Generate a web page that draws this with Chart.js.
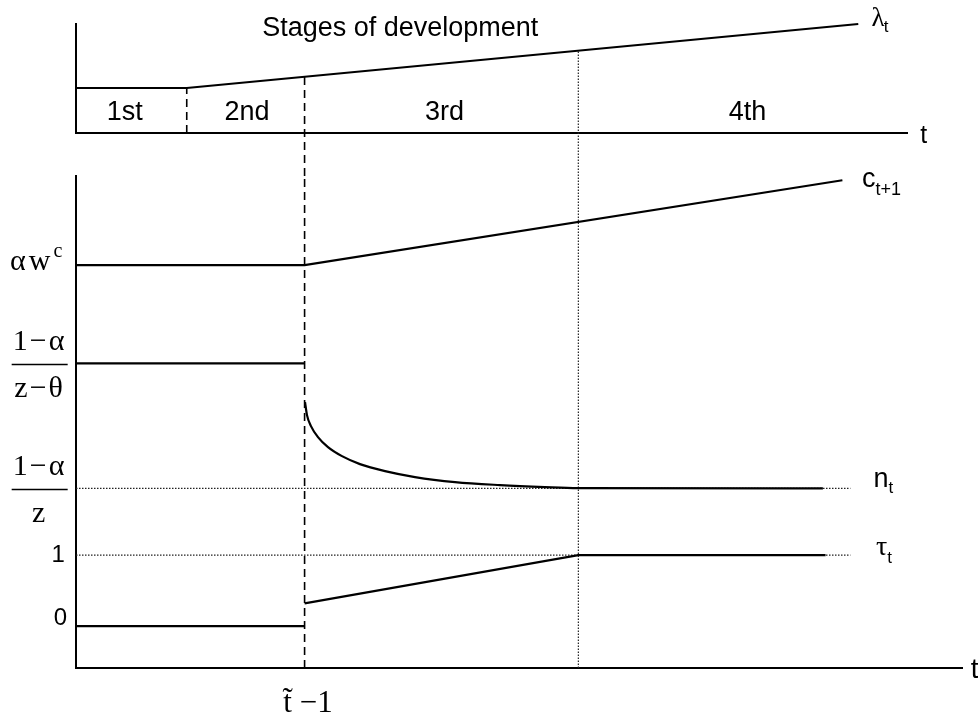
<!DOCTYPE html>
<html>
<head>
<meta charset="utf-8">
<script src="https://cdn.jsdelivr.net/npm/chart.js@4.4.1/dist/chart.umd.min.js"></script>
<style>
  body { margin: 0; background: #fff; }
  #wrap { position: relative; width: 978px; height: 717px; }
  #wrap canvas { position: absolute; left: 0; top: 0; }
</style>
</head>
<body>
<div id="wrap">
  <canvas id="topChart" width="978" height="717"></canvas>
  <canvas id="bottomChart" width="978" height="717"></canvas>
</div>
<script>
// time axis (shared by both panels)
const stageEdges = [12.5, 25.8, 56.7];      // 1st|2nd, 2nd|3rd (t~ - 1), 3rd|4th
const stageNames = ['1st', '2nd', '3rd', '4th'];
const stageLabelX = [5.5, 19.3, 41.6, 75.8];

// top panel: lambda_t
const lambdaX = [0, 12.5, 88.3];
const lambdaY = [4.54, 4.54, 11.0];

// bottom panel
const cX = [0, 25.8, 86.5];
const cY = [5.085, 5.085, 6.28];
const thetaX = [0, 25.8];
const thetaY = [3.70, 3.70];
const nX = [25.85, 26.07, 26.52, 27.31, 28.44, 30.02, 32.05, 34.88, 38.26, 42.78, 47.86, 52.93, 56.66, 84.3];
const nY = [3.155, 2.972, 2.817, 2.662, 2.521, 2.394, 2.282, 2.183, 2.099, 2.028, 1.986, 1.958, 1.944, 1.94];
const tauBeforeX = [0, 25.8];
const tauBeforeY = [0, 0];
const tauAfterX = [25.8, 56.7, 84.6];
const tauAfterY = [0.32, 1, 1];
const nStar = 1.94;
const levelEndX = 87.4;

// vertical guide extents (top panel units / bottom panel units)
const topGuideLow = -4.34;
const topGuideHigh = [4.54, 5.67, 8.31];
const bottomRange = [-0.59, 6.34];

const serif = '"Liberation Serif", "Times New Roman", serif';
const sans = '"Liberation Sans", Arial, sans-serif';

const pts = (xs, ys) => xs.map((x, i) => ({ x, y: ys[i] }));
const vline = (x, y0, y1) => [{ x, y: y0 }, { x, y: y1 }];

function solid(data, extra) {
  return Object.assign({ data, borderColor: '#000', borderWidth: 2.2, pointRadius: 0, tension: 0, clip: false }, extra);
}
function dashed(data) { return solid(data, { borderWidth: 1.6, borderDash: [8, 5] }); }
function dotted(data) { return solid(data, { borderWidth: 1.2, borderDash: [1.5, 1.5], borderColor: '#222' }); }

function axisScale(min, max) {
  return {
    type: 'linear', min, max,
    grid: { display: false, drawTicks: false },
    ticks: { display: false },
    border: { display: true, color: '#000', width: 2 }
  };
}

function drawItems(chart, items) {
  const { ctx, scales: { x, y } } = chart;
  ctx.save();
  ctx.fillStyle = '#000';
  ctx.strokeStyle = '#000';
  ctx.textBaseline = 'alphabetic';
  for (const it of items) {
    const px = x.getPixelForValue(it.x) + (it.dx || 0);
    const py = y.getPixelForValue(it.y) + (it.dy || 0);
    ctx.letterSpacing = it.spacing || '0px';
    if (it.num) {
      ctx.textAlign = 'center';
      ctx.font = it.font;
      ctx.fillText(it.num, px, py - 13);
      ctx.fillText(it.den, px, py + 34);
      ctx.lineWidth = 1.5;
      ctx.beginPath();
      ctx.moveTo(px - 28, py + 1);
      ctx.lineTo(px + 28, py + 1);
      ctx.stroke();
      continue;
    }
    ctx.textAlign = it.align || 'left';
    ctx.font = it.font;
    ctx.fillText(it.text, px, py);
    if (it.sub) {
      const w = ctx.measureText(it.text).width;
      ctx.letterSpacing = '0px';
      ctx.font = it.subFont;
      ctx.textAlign = 'left';
      ctx.fillText(it.sub, px + w + (it.subDx || 0), py + it.subDy);
    }
  }
  ctx.restore();
}

const topTexts = [
  { text: 'Stages of development', x: 36.6, y: 9.79, font: '27px ' + sans, align: 'center' },
  ...stageNames.map((s, i) => ({ text: s, x: stageLabelX[i], y: 1.31, font: '27px ' + sans, align: 'center' })),
  { text: 'λ', x: 89.8, y: 10.8, font: '27px ' + serif, sub: 't', subFont: '17px ' + sans, subDy: 6, subDx: -1 },
  { text: 't', x: 95.3, y: -1.0, font: '25px ' + sans }
];

const bottomTexts = [
  { text: 'αw', x: -7.45, y: cY[0], dy: 5, font: '30px ' + serif, spacing: '3px', sub: 'c', subFont: '20px ' + serif, subDy: -13, subDx: 0 },
  { num: '1−α', den: 'z−θ', x: -4.1, y: thetaY[0], font: '30px ' + serif, spacing: '2px' },
  { num: '1−α', den: 'z', x: -4.1, y: nStar, font: '30px ' + serif, spacing: '2px' },
  { text: '1', x: -1.25, y: 1, dy: 7, font: '24px ' + sans, align: 'right' },
  { text: '0', x: -1.0, y: 0, dy: -1, font: '24px ' + sans, align: 'right' },
  { text: 'c', x: 88.7, y: 6.18, font: '27px ' + sans, sub: 't+1', subFont: '18px ' + sans, subDy: 8 },
  { text: 'n', x: 90.0, y: 1.96, font: '27px ' + sans, sub: 't', subFont: '17px ' + sans, subDy: 6 },
  { text: 'τ', x: 90.3, y: 1.0, font: '28px ' + serif, sub: 't', subFont: '17px ' + sans, subDy: 8 },
  { text: 't', x: 101.0, y: -0.73, font: '28px ' + sans },
  { text: 't\u0303 \u22121', x: 23.4, y: -1.21, font: '31px ' + serif }
];

const textPlugin = items => ({ id: 'texts', afterDraw: chart => drawItems(chart, items) });

const baseOptions = (padding, xMax, yMin, yMax) => ({
  responsive: false,
  animation: false,
  events: [],
  layout: { padding, autoPadding: false },
  plugins: { legend: { display: false }, tooltip: { enabled: false } },
  scales: { x: axisScale(0, xMax), y: axisScale(yMin, yMax) }
});

new Chart(document.getElementById('topChart'), {
  type: 'line',
  data: {
    datasets: [
      solid(pts(lambdaX, lambdaY)),
      dashed(vline(stageEdges[0], 0, topGuideHigh[0])),
      dashed(vline(stageEdges[1], topGuideLow, topGuideHigh[1])),
      dotted(vline(stageEdges[2], topGuideLow, topGuideHigh[2]))
    ]
  },
  options: baseOptions({ left: 76, top: 24, right: 71, bottom: 584 }, 93.8, 0, 11),
  plugins: [textPlugin(topTexts)]
});

new Chart(document.getElementById('bottomChart'), {
  type: 'line',
  data: {
    datasets: [
      solid(pts(cX, cY)),
      solid(pts(thetaX, thetaY)),
      solid(pts(nX, nY), { cubicInterpolationMode: 'monotone' }),
      solid(pts(tauBeforeX, tauBeforeY)),
      solid(pts(tauAfterX, tauAfterY)),
      dotted([{ x: 0, y: nStar }, { x: levelEndX, y: nStar }]),
      dotted([{ x: 0, y: 1 }, { x: levelEndX, y: 1 }]),
      dashed(vline(stageEdges[1], bottomRange[0], bottomRange[1])),
      dotted(vline(stageEdges[2], bottomRange[0], bottomRange[1]))
    ]
  },
  options: baseOptions({ left: 76, top: 176, right: 16, bottom: 49 }, 100, bottomRange[0], bottomRange[1]),
  plugins: [textPlugin(bottomTexts)]
});
</script>
</body>
</html>
